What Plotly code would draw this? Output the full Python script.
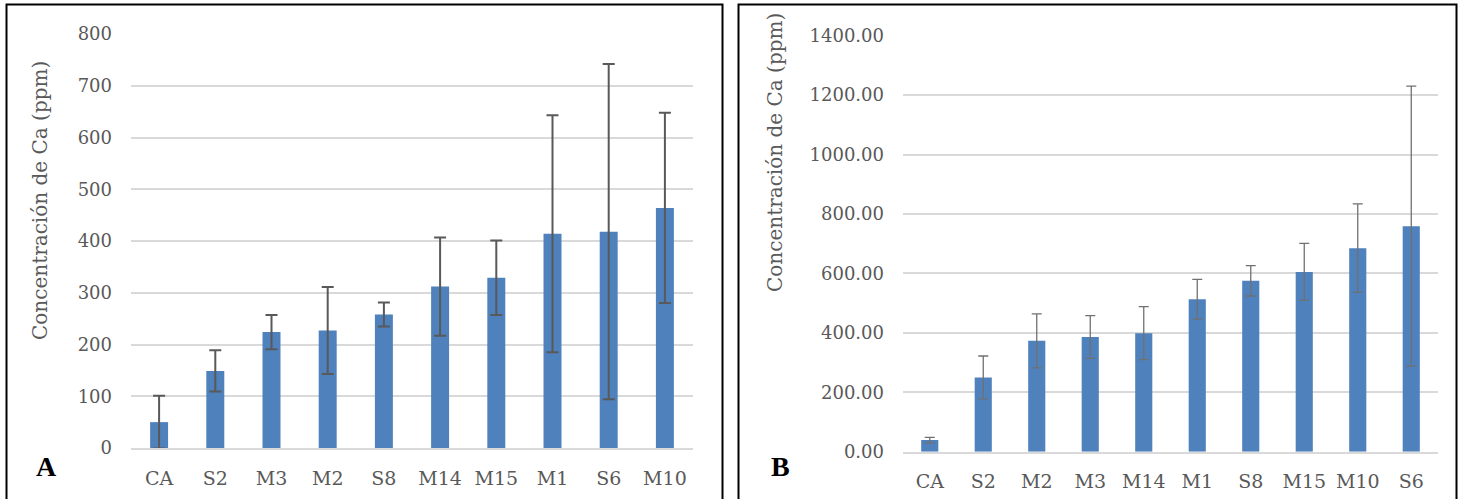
import plotly.graph_objects as go

W, H = 1462, 499

# Panel A data
cats_a = ["CA", "S2", "M3", "M2", "S8", "M14", "M15", "M1", "S6", "M10"]
vals_a = [50, 149, 224, 227, 258, 312, 329, 414, 418, 464]
err_a = [51, 40, 33, 84, 23, 95, 72, 229, 324, 184]
yticks_a = [0, 100, 200, 300, 400, 500, 600, 700, 800]

# Panel B data
cats_b = ["CA", "S2", "M2", "M3", "M14", "M1", "S8", "M15", "M10", "S6"]
vals_b = [39, 250, 373, 386, 399, 513, 575, 605, 685, 759]
err_b = [9, 72, 91, 72, 89, 67, 51, 96, 149, 471]
yticks_b = [0, 200, 400, 600, 800, 1000, 1200, 1400]
yticklabels_b = ["0.00", "200.00", "400.00", "600.00", "800.00", "1000.00", "1200.00", "1400.00"]

ytitle = "Concentración de Ca (ppm)"

BAR = "#4f81bd"
TXT = "#595959"
GRID = "#d9d9d9"
FONT = "DejaVu Serif"

def px_x(x):
    return x / W

def px_y(y):
    return 1 - y / H

fig = go.Figure()
fig.add_trace(go.Bar(
    x=cats_a, y=vals_a, xaxis="x", yaxis="y",
    marker=dict(color=BAR, line=dict(width=0)),
    error_y=dict(type="data", array=err_a, visible=True, color=TXT, thickness=2, width=6),
    showlegend=False,
))
fig.add_trace(go.Bar(
    x=cats_b, y=vals_b, xaxis="x2", yaxis="y2",
    marker=dict(color=BAR, line=dict(width=0)),
    error_y=dict(type="data", array=err_b, visible=True, color="#707070", thickness=1.3, width=5),
    showlegend=False,
))

xcommon = dict(showgrid=False, zeroline=False, showline=True, linecolor=GRID, linewidth=1.5,
               ticks="", tickfont=dict(family=FONT, size=19, color=TXT), ticklabelstandoff=12,
               automargin=False, fixedrange=True)
ycommon = dict(showgrid=True, gridcolor=GRID, gridwidth=1.5, zeroline=False, showline=False,
               ticks="", tickfont=dict(family=FONT, size=18, color=TXT), ticklabelstandoff=18,
               automargin=False, fixedrange=True)

fig.update_layout(
    width=W, height=H,
    margin=dict(l=0, r=0, t=0, b=0),
    paper_bgcolor="white", plot_bgcolor="white",
    bargap=0.68,
    xaxis=dict(domain=[px_x(131), px_x(693)], anchor="y", **xcommon),
    yaxis=dict(domain=[px_y(448), px_y(34)], anchor="x", range=[0, 800],
               tickvals=yticks_a, **ycommon),
    xaxis2=dict(domain=[px_x(903), px_x(1438)], anchor="y2", **xcommon),
    yaxis2=dict(domain=[px_y(451.7), px_y(35.7)], anchor="x2", range=[0, 1400],
                tickvals=yticks_b, ticktext=yticklabels_b, **ycommon),
    shapes=[
        dict(type="rect", xref="paper", yref="paper", x0=px_x(6.5), x1=px_x(722.5),
             y0=-0.05, y1=px_y(4.5), line=dict(color="black", width=2), fillcolor="rgba(0,0,0,0)",
             layer="above"),
        dict(type="rect", xref="paper", yref="paper", x0=px_x(738.5), x1=px_x(1456.5),
             y0=-0.05, y1=px_y(4.5), line=dict(color="black", width=2), fillcolor="rgba(0,0,0,0)",
             layer="above"),
    ],
    annotations=[
        dict(text=ytitle, xref="paper", yref="paper", x=px_x(40), y=px_y(201),
             textangle=-90, showarrow=False, font=dict(family=FONT, size=20, color=TXT),
             xanchor="center", yanchor="middle"),
        dict(text=ytitle, xref="paper", yref="paper", x=px_x(775), y=px_y(153),
             textangle=-90, showarrow=False, font=dict(family=FONT, size=20, color=TXT),
             xanchor="center", yanchor="middle"),
        dict(text="<b>A</b>", xref="paper", yref="paper", x=px_x(46), y=px_y(466),
             showarrow=False, font=dict(family="Liberation Serif", size=28, color="black"),
             xanchor="center", yanchor="middle"),
        dict(text="<b>B</b>", xref="paper", yref="paper", x=px_x(780), y=px_y(466),
             showarrow=False, font=dict(family="Liberation Serif", size=28, color="black"),
             xanchor="center", yanchor="middle"),
    ],
)

fig.write_html("out.html", config={"displayModeBar": False},
               post_script="document.body.style.margin='0';document.body.style.overflow='hidden';")
